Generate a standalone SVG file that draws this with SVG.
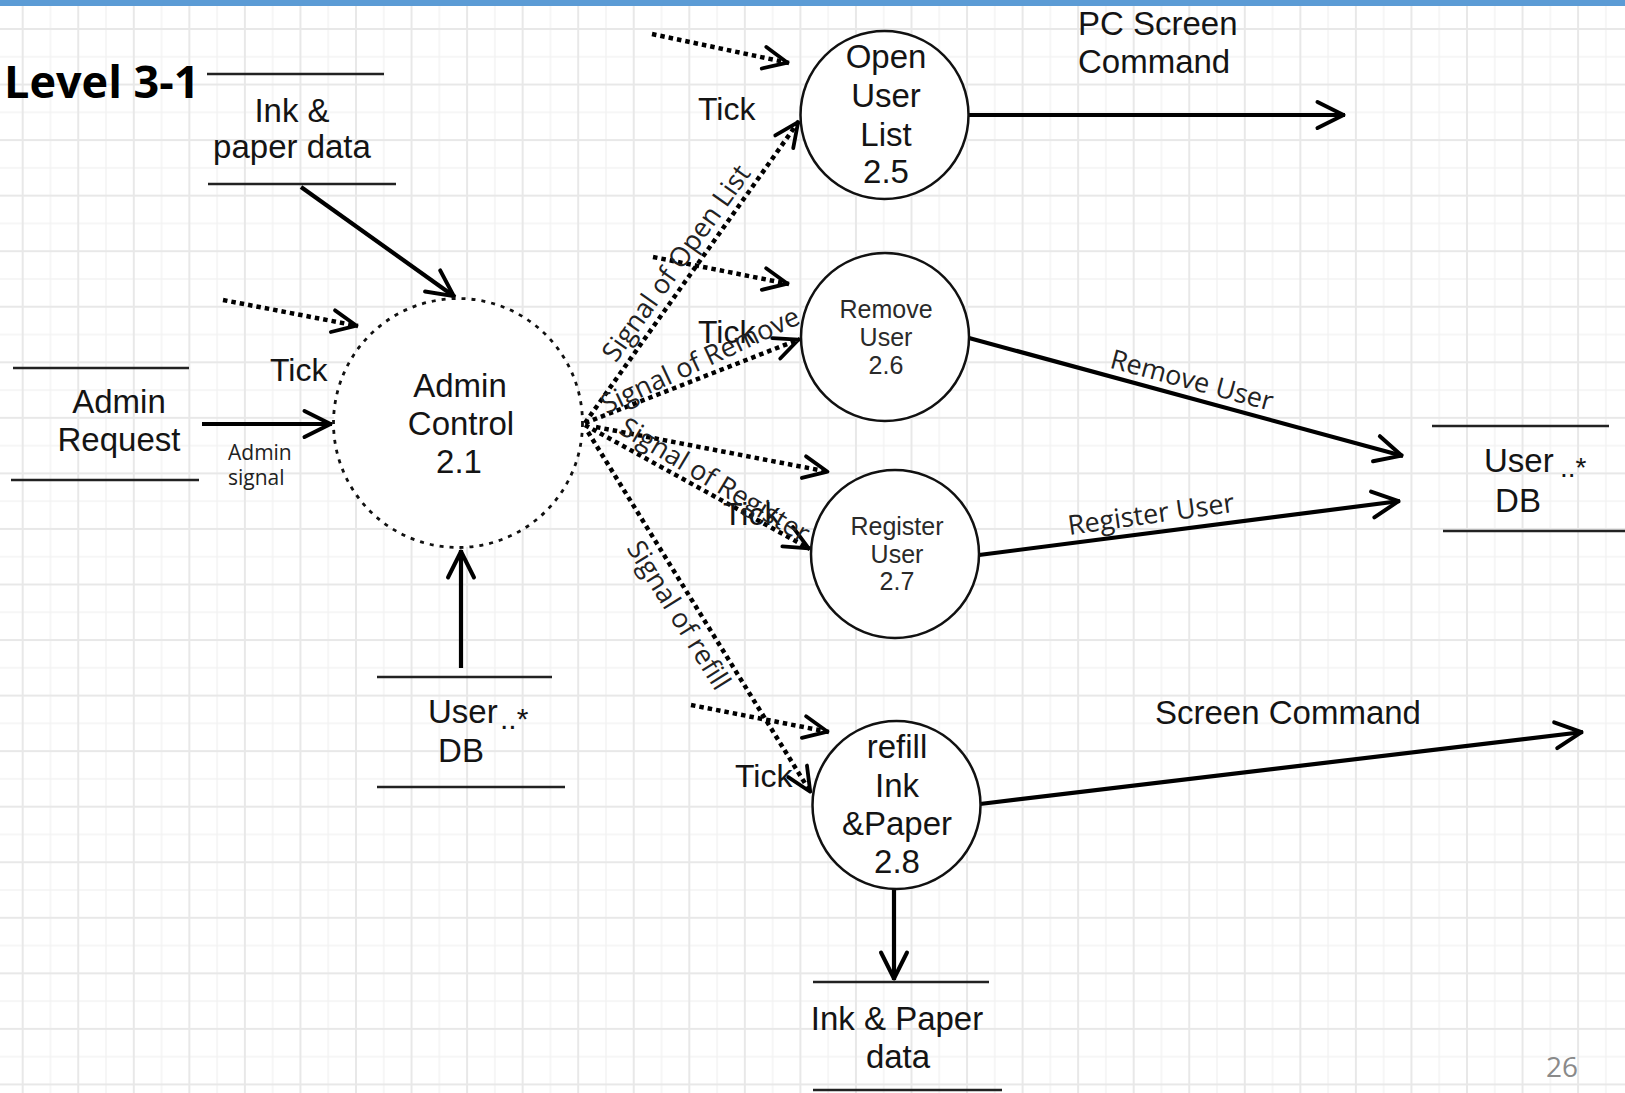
<svg xmlns="http://www.w3.org/2000/svg" width="1625" height="1093" viewBox="0 0 1625 1093">
<style>
.ar{font-family:"Liberation Sans",Arial,sans-serif;fill:#141414}
.a33{font-size:33px}
.a32{font-size:32px}
.a25{font-size:25px;fill:#2a2a2a}
.sg{font-family:"Open Sans","Noto Sans",sans-serif;fill:#222;font-size:27px}
.store{stroke:#222;stroke-width:2.6;fill:none}
.proc{fill:#fff;stroke:#111;stroke-width:2.5}
.flow{fill:none;stroke:#000;stroke-width:4.2;marker-end:url(#ah)}
.sig{fill:none;stroke:#000;stroke-width:4.5;stroke-dasharray:4.5 4;marker-end:url(#ahd)}
</style>
<defs>
<pattern id="grid" x="-5.08" y="1.22" width="55.55" height="55.55" patternUnits="userSpaceOnUse">
<path d="M0 0V55.55M55.55 0V55.55M0 0H55.55M0 55.55H55.55" stroke="#f3f3f3" stroke-width="1.5" fill="none"/>
<path d="M27.78 0V55.55M0 27.78H55.55" stroke="#e8e8e8" stroke-width="2" fill="none"/>
</pattern>
<marker id="ah" viewBox="-30 -16 34 32" refX="1.5" refY="0" markerWidth="34" markerHeight="32" orient="auto" markerUnits="userSpaceOnUse">
<path d="M-26,-13 L0,0 L-26,13" fill="none" stroke="#000" stroke-width="4" stroke-linejoin="round" stroke-linecap="round"/>
</marker>
<marker id="ahd" viewBox="-30 -16 34 32" refX="1.5" refY="0" markerWidth="34" markerHeight="32" orient="auto" markerUnits="userSpaceOnUse">
<path d="M-24,-11 L0,0 L-24,11" fill="none" stroke="#000" stroke-width="3.8" stroke-linejoin="round" stroke-linecap="round"/>
</marker>
</defs>

<g id="background">
<rect width="1625" height="1093" fill="#fff"/>
<rect width="1625" height="1093" fill="url(#grid)"/>
<rect width="1625" height="6" fill="#5b9bd5"/>
<text x="4" y="98" font-family="'Open Sans','Noto Sans',sans-serif" font-weight="bold" font-size="45" fill="#000">Level 3-1</text>
<text x="1546" y="1077" font-family="'Open Sans','Noto Sans',sans-serif" font-size="28" fill="#8a8a8a">26</text>
</g>

<g id="connectors">
<line class="flow" x1="301" y1="187" x2="455" y2="297"/>
<line class="sig" x1="223" y1="300" x2="358" y2="326"/>
<line class="flow" x1="202" y1="424" x2="332" y2="424"/>
<line class="flow" x1="461" y1="668" x2="461" y2="550"/>
<line class="sig" x1="652" y1="34" x2="789" y2="63"/>
<line class="sig" x1="585" y1="423" x2="799" y2="121"/>
<line class="flow" x1="968" y1="115" x2="1345" y2="115"/>
<line class="sig" x1="653" y1="257" x2="789" y2="284"/>
<line class="sig" x1="585" y1="423" x2="800" y2="339"/>
<line class="flow" x1="969" y1="338" x2="1403" y2="456"/>
<line class="sig" x1="596" y1="427" x2="829" y2="472"/>
<line class="sig" x1="585" y1="425" x2="810" y2="549"/>
<line class="flow" x1="979" y1="555" x2="1400" y2="501"/>
<line class="sig" x1="691" y1="705" x2="829" y2="732"/>
<line class="sig" x1="588" y1="432" x2="811" y2="793"/>
<line class="flow" x1="980" y1="804" x2="1583" y2="732"/>
<line class="flow" x1="894" y1="888" x2="894" y2="980"/>
<text class="sg" x="228" y="460" style="font-size:21px">Admin</text>
<text class="sg" x="228" y="485" style="font-size:21px">signal</text>
<text class="ar a32" x="270" y="381">Tick</text>
<text class="ar a32" x="698" y="120">Tick</text>
<text class="ar a32" x="698" y="343">Tick</text>
<text class="ar a32" x="723" y="525">Tick</text>
<text class="ar a32" x="735" y="787">Tick</text>
<text class="sg" x="676" y="263" dy="0.35em" text-anchor="middle" transform="rotate(-54.5 676 263)">Signal of Open List</text>
<text class="sg" x="700" y="360" dy="0.35em" text-anchor="middle" transform="rotate(-25 700 360)">Signal of Remove</text>
<text class="sg" x="715" y="480" dy="0.35em" text-anchor="middle" transform="rotate(31 715 480)">Signal of Register</text>
<text class="sg" x="679" y="615" dy="0.35em" text-anchor="middle" transform="rotate(58 679 615)">Signal of refill</text>
<text class="sg" x="1192" y="380" dy="0.35em" text-anchor="middle" transform="rotate(15 1192 380)">Remove User</text>
<text class="sg" x="1151" y="514" dy="0.35em" text-anchor="middle" transform="rotate(-8 1151 514)">Register User</text>
<text class="ar a33" x="1078" y="35">PC Screen</text>
<text class="ar a33" x="1078" y="73">Command</text>
<text class="ar a33" x="1155" y="724">Screen Command</text>
</g>

<g id="store-ink-paper-top">
<line class="store" x1="207" y1="74" x2="384" y2="74"/>
<line class="store" x1="208" y1="184" x2="396" y2="184"/>
<text class="ar a33" x="292" y="122" text-anchor="middle">Ink &amp;</text>
<text class="ar a33" x="292" y="158" text-anchor="middle">paper data</text>
</g>

<g id="store-admin-request">
<line class="store" x1="13" y1="368" x2="189" y2="368"/>
<line class="store" x1="11" y1="480" x2="199" y2="480"/>
<text class="ar a33" x="119" y="413" text-anchor="middle">Admin</text>
<text class="ar a33" x="119" y="451" text-anchor="middle">Request</text>
</g>

<g id="proc-admin-control">
<circle cx="458" cy="423" r="124.5" fill="#fff" stroke="#111" stroke-width="2.8" stroke-dasharray="4 6"/>
<text class="ar a33" x="460" y="397" text-anchor="middle">Admin</text>
<text class="ar a33" x="461" y="435" text-anchor="middle">Control</text>
<text class="ar a33" x="459" y="473" text-anchor="middle">2.1</text>
</g>

<g id="store-user-db-left">
<line class="store" x1="377" y1="677" x2="552" y2="677"/>
<line class="store" x1="377" y1="787" x2="565" y2="787"/>
<text class="ar a33" x="428" y="723">User</text>
<text class="ar" x="500" y="729" font-size="30">..*</text>
<text class="ar a33" x="461" y="762" text-anchor="middle">DB</text>
</g>

<g id="proc-open-user-list">
<circle class="proc" cx="884.5" cy="115" r="84"/>
<text class="ar a33" x="886" y="68" text-anchor="middle">Open</text>
<text class="ar a33" x="886" y="107" text-anchor="middle">User</text>
<text class="ar a33" x="886" y="146" text-anchor="middle">List</text>
<text class="ar a33" x="886" y="183" text-anchor="middle">2.5</text>
</g>

<g id="proc-remove-user">
<circle class="proc" cx="885" cy="337" r="84"/>
<text class="ar a25" x="886" y="318" text-anchor="middle">Remove</text>
<text class="ar a25" x="886" y="346" text-anchor="middle">User</text>
<text class="ar a25" x="886" y="374" text-anchor="middle">2.6</text>
</g>

<g id="proc-register-user">
<circle class="proc" cx="895" cy="554" r="84"/>
<text class="ar a25" x="897" y="535" text-anchor="middle">Register</text>
<text class="ar a25" x="897" y="563" text-anchor="middle">User</text>
<text class="ar a25" x="897" y="590" text-anchor="middle">2.7</text>
</g>

<g id="proc-refill">
<circle class="proc" cx="896.5" cy="805" r="84"/>
<text class="ar a33" x="897" y="758" text-anchor="middle">refill</text>
<text class="ar a33" x="897" y="797" text-anchor="middle">Ink</text>
<text class="ar a33" x="897" y="835" text-anchor="middle">&amp;Paper</text>
<text class="ar a33" x="897" y="873" text-anchor="middle">2.8</text>
</g>

<g id="store-user-db-right">
<line class="store" x1="1432" y1="426" x2="1609" y2="426"/>
<line class="store" x1="1443" y1="531" x2="1625" y2="531"/>
<text class="ar a33" x="1484" y="472">User</text>
<text class="ar" x="1560" y="477" font-size="28">..*</text>
<text class="ar a33" x="1518" y="512" text-anchor="middle">DB</text>
</g>

<g id="store-ink-paper-bottom">
<line class="store" x1="813" y1="982" x2="989" y2="982"/>
<line class="store" x1="813" y1="1090" x2="1002" y2="1090"/>
<text class="ar a33" x="897" y="1030" text-anchor="middle">Ink &amp; Paper</text>
<text class="ar a33" x="898" y="1068" text-anchor="middle">data</text>
</g>
</svg>
